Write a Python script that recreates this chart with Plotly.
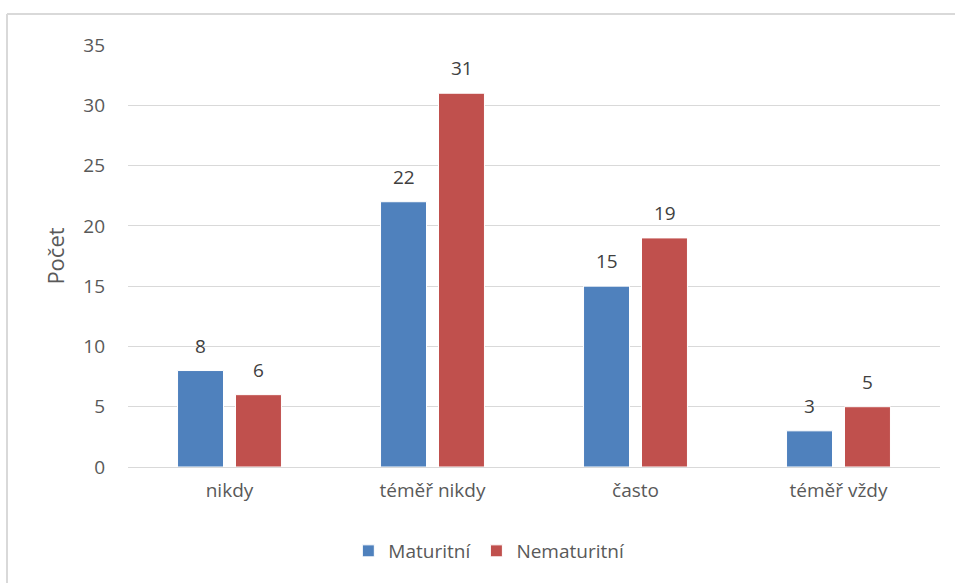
import plotly.graph_objects as go

categories = ["nikdy", "téměř nikdy", "často", "téměř vždy"]
maturitni = [8, 22, 15, 3]
nematuritni = [6, 31, 19, 5]
y_ticks = [0, 5, 10, 15, 20, 25, 30, 35]

W, H = 955, 583
L, R, T, B = 128, 15, 45, 116
FONT = "Open Sans"
TXT = "#595959"

fig = go.Figure()
fig.add_bar(name="Maturitní", x=categories, y=maturitni,
            marker=dict(color="#4f81bd", line=dict(color="white", width=1)))
fig.add_bar(name="Nematuritní", x=categories, y=nematuritni,
            marker=dict(color="#c0504d", line=dict(color="white", width=1)))

# value labels above each bar
annotations = []
for vals, shift in ((maturitni, -29), (nematuritni, 29)):
    for c, v in zip(categories, vals):
        annotations.append(dict(x=c, y=v, text=str(v), showarrow=False,
                                xshift=shift, yanchor="bottom", yshift=10,
                                font=dict(family=FONT, size=19, color="#404040")))

pw = W - L - R
ph = H - T - B
fig.update_layout(
    width=W, height=H,
    margin=dict(l=L, r=R, t=T, b=B, autoexpand=False),
    paper_bgcolor="white", plot_bgcolor="white",
    barmode="group", bargap=0.429, bargroupgap=0.207,
    font=dict(family=FONT, size=19, color=TXT),
    annotations=annotations,
    showlegend=True,
    legend=dict(orientation="h", x=0.445, xanchor="center", y=-84 / ph, yanchor="middle",
                font=dict(family=FONT, size=19, color=TXT), itemwidth=30,
                traceorder="normal"),
    xaxis=dict(showgrid=False, showline=False, ticks="", ticklabelstandoff=10,
               tickfont=dict(family=FONT, size=19, color=TXT)),
    yaxis=dict(range=[0, 35], tickvals=y_ticks, showgrid=True, gridcolor="#d9d9d9",
               gridwidth=1, zeroline=True, zerolinecolor="#d9d9d9", zerolinewidth=1,
               ticks="", ticklabelstandoff=22,
               tickfont=dict(family=FONT, size=19, color=TXT),
               title=dict(text="Počet", standoff=12,
                          font=dict(family=FONT, size=22, color=TXT))),
    shapes=[
        # chart frame: left and top edges (the others fall outside the page)
        dict(type="line", xref="paper", yref="paper",
             x0=(7 - L) / pw, x1=(7 - L) / pw, y0=-(H - T - ph + 10) / ph, y1=(T - 14 + ph) / ph,
             line=dict(color="#d9d9d9", width=2)),
        dict(type="line", xref="paper", yref="paper",
             x0=(7 - L) / pw, x1=(W + 10 - L) / pw, y0=(T - 14 + ph) / ph, y1=(T - 14 + ph) / ph,
             line=dict(color="#d9d9d9", width=2)),
    ],
)

fig.write_html("out.html")
